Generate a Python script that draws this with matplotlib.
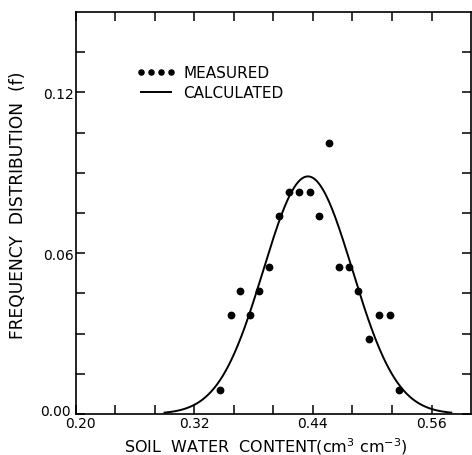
import numpy as np
import matplotlib
matplotlib.use("Agg")
import matplotlib.pyplot as plt
from matplotlib.transforms import ScaledTranslation

# Measured frequency distribution
theta_measured = [0.346, 0.357, 0.366, 0.376, 0.386, 0.396, 0.406, 0.416, 0.426,
                  0.437, 0.446, 0.456, 0.466, 0.477, 0.486, 0.497, 0.507, 0.518, 0.527]
freq_measured = [0.009, 0.037, 0.046, 0.037, 0.046, 0.055, 0.074, 0.083, 0.083,
                 0.083, 0.074, 0.101, 0.055, 0.055, 0.046, 0.028, 0.037, 0.037, 0.009]

# Calculated (normal) distribution parameters
calc_mean = 0.435
calc_sd = 0.045
calc_bin = 0.01
calc_range = [0.29, 0.58]

# Tick values and labels
x_ticks = [0.20, 0.24, 0.28, 0.32, 0.36, 0.40, 0.44, 0.48, 0.52, 0.56]
x_ticklabels = ["0.20", "", "", "0.32", "", "", "0.44", "", "", "0.56"]
y_ticks = [0.0, 0.015, 0.03, 0.045, 0.06, 0.075, 0.09, 0.105, 0.12, 0.135]
y_ticklabels = ["0.00", "", "", "", "0.06", "", "", "", "0.12", ""]

theta_calc = np.linspace(calc_range[0], calc_range[1], 400)
freq_calc = calc_bin / (calc_sd * np.sqrt(2 * np.pi)) * np.exp(-0.5 * ((theta_calc - calc_mean) / calc_sd) ** 2)

fig = plt.figure(figsize=(4.72, 4.56), dpi=100)
ax = fig.add_axes([0.160, 0.090, 0.838, 0.8815])

ax.plot(theta_measured, freq_measured, linestyle="none", marker="o", markersize=4.6,
        color="black", label="MEASURED")
ax.plot(theta_calc, freq_calc, color="black", linewidth=1.4, label="CALCULATED")

ax.set_xlim(0.20, 0.60)
ax.set_ylim(0.0, 0.15)
ax.set_xticks(x_ticks)
ax.set_xticklabels(x_ticklabels, fontsize=10)
ax.set_yticks(y_ticks)
ax.set_yticklabels(y_ticklabels, fontsize=10)
ax.tick_params(direction="in", top=True, right=True, length=6.5, width=1.1, pad=1.5)
for s in ax.spines.values():
    s.set_linewidth(1.2)

# nudge corner labels apart as in the original
ax.get_xticklabels()[0].set_transform(ax.get_xticklabels()[0].get_transform()
                                      + ScaledTranslation(0.05, 0, fig.dpi_scale_trans))
ax.get_yticklabels()[0].set_transform(ax.get_yticklabels()[0].get_transform()
                                      + ScaledTranslation(-0.03, 0.04, fig.dpi_scale_trans))

ax.set_xlabel("SOIL  WATER  CONTENT(cm$^3$ cm$^{-3}$)", fontsize=11.5)
ax.xaxis.set_label_coords(0.4815, -0.052)
ax.set_ylabel("FREQUENCY  DISTRIBUTION  (f)", fontsize=12.3)
ax.yaxis.set_label_coords(-0.123, 0.522)

ax.legend(numpoints=4, frameon=False, loc="upper left", bbox_to_anchor=(0.153, 0.868),
          borderpad=0, borderaxespad=0, handlelength=2.6, handletextpad=0.5,
          labelspacing=0.35, fontsize=11, markerscale=0.8)

fig.savefig("out.png", dpi=100)
